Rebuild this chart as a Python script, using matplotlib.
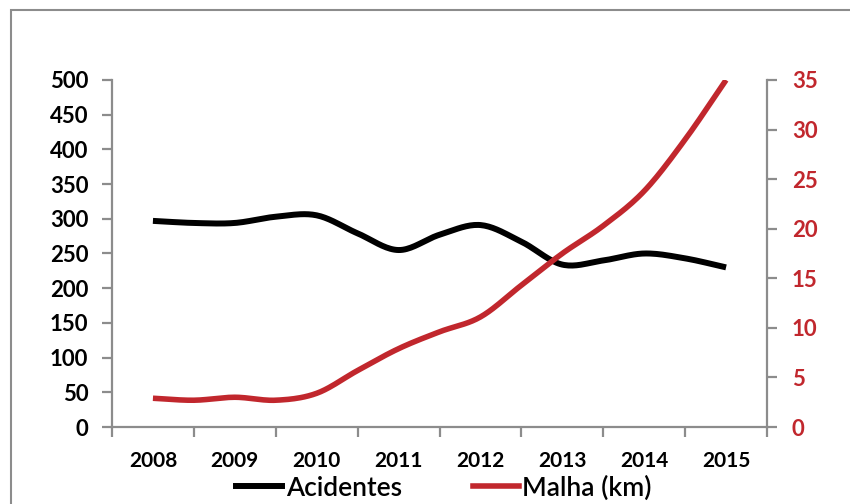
import numpy as np
import matplotlib
matplotlib.use("Agg")
import matplotlib.pyplot as plt
from matplotlib.lines import Line2D
from matplotlib.patches import Rectangle

# Semi-annual readings, positions in years
years = [2008, 2009, 2010, 2011, 2012, 2013, 2014, 2015]
periods = [2008, 2008.5, 2009, 2009.5, 2010, 2010.5, 2011, 2011.5,
           2012, 2012.5, 2013, 2013.5, 2014, 2014.5, 2015]
acidentes = [297, 294, 294, 303, 305, 279, 255, 277,
             291, 267, 234, 240, 250, 243, 230]
malha_km = [2.9, 2.7, 3.0, 2.7, 3.4, 5.7, 7.9, 9.6,
            11.1, 14.3, 17.5, 20.3, 23.8, 29.0, 35.0]

left_ticks = list(range(0, 501, 50))
right_ticks = list(range(0, 36, 5))

BLACK = "#000000"
RED = "#C1272D"
GRAY = "#8C8C8C"


def smooth(x, y, n=20):
    """Catmull-Rom curve through the points (Excel style smoothed line)."""
    x = np.asarray(x, float)
    y = np.asarray(y, float)
    px = np.concatenate([[2 * x[0] - x[1]], x, [2 * x[-1] - x[-2]]])
    py = np.concatenate([[2 * y[0] - y[1]], y, [2 * y[-1] - y[-2]]])
    t = np.linspace(0, 1, n, endpoint=False)
    xs, ys = [], []
    for i in range(1, len(px) - 2):
        for arr, out in ((px, xs), (py, ys)):
            p0, p1, p2, p3 = arr[i - 1], arr[i], arr[i + 1], arr[i + 2]
            out.extend(0.5 * ((2 * p1) + (-p0 + p2) * t
                              + (2 * p0 - 5 * p1 + 4 * p2 - p3) * t ** 2
                              + (-p0 + 3 * p1 - 3 * p2 + p3) * t ** 3))
    xs.append(x[-1])
    ys.append(y[-1])
    return np.array(xs), np.array(ys)


plt.rcParams["font.family"] = ["Lato", "DejaVu Sans"]

W, H = 850, 504
fig = plt.figure(figsize=(W / 100, H / 100), dpi=100)
fig.patches.append(Rectangle((11 / W, -0.2), 1.5, 1.2 - 10 / H,
                             transform=fig.transFigure, fill=False,
                             edgecolor=GRAY, lw=1.5))

ax = fig.add_axes([112 / W, 1 - 427 / H, (767 - 112) / W, (427 - 80) / H])
ax2 = ax.twinx()

xpos = np.array(periods) - years[0]
sx, sy = smooth(xpos, acidentes)
ax.plot(sx, sy, color=BLACK, lw=4.3, solid_capstyle="butt", zorder=3)
sx, sy = smooth(xpos, malha_km)
ax2.plot(sx, sy, color=RED, lw=4.0, solid_capstyle="butt", zorder=3)

ax.set_xlim(-0.5, len(years) - 0.5)
ax.set_ylim(0, 500)
ax2.set_ylim(0, 35)
ax.set_yticks(left_ticks, labels=[str(v) for v in left_ticks],
              fontweight="bold", fontsize=16, color=BLACK)
ax2.set_yticks(right_ticks, labels=[str(v) for v in right_ticks],
               fontweight="bold", fontsize=16, color=RED)
ax.set_xticks(np.arange(len(years) + 1) - 0.5, labels=[])
ax.set_xticks(np.arange(len(years)), labels=[str(y) for y in years],
              minor=True, fontweight="bold", fontsize=15, color=BLACK)

for a in (ax, ax2):
    for s in a.spines.values():
        s.set_visible(False)
ax.spines["left"].set_visible(True)
ax.spines["bottom"].set_visible(True)
ax2.spines["right"].set_visible(True)
for s in (ax.spines["left"], ax.spines["bottom"], ax2.spines["right"]):
    s.set_color(GRAY)
    s.set_linewidth(1.6)

ax.tick_params(axis="y", direction="out", length=7, width=1.6, color=GRAY,
               pad=10)
ax2.tick_params(axis="y", direction="out", length=7, width=1.6, color=GRAY,
                pad=11)
ax.tick_params(axis="x", which="major", direction="out", length=7,
               width=1.6, color=GRAY)
ax.tick_params(axis="x", which="minor", length=0, pad=17)

handles = [Line2D([], [], color=BLACK, lw=4.3),
           Line2D([], [], color=RED, lw=4.0)]
fig.legend(handles, ["Acidentes", "Malha (km)"], loc="center",
           bbox_to_anchor=(444 / W, 1 - 488 / H), ncol=2, frameon=False,
           prop={"size": 19, "weight": 600}, handlelength=1.75,
           handletextpad=0.12, columnspacing=2.7, borderpad=0)

fig.savefig("out.png", dpi=100, facecolor="white")
